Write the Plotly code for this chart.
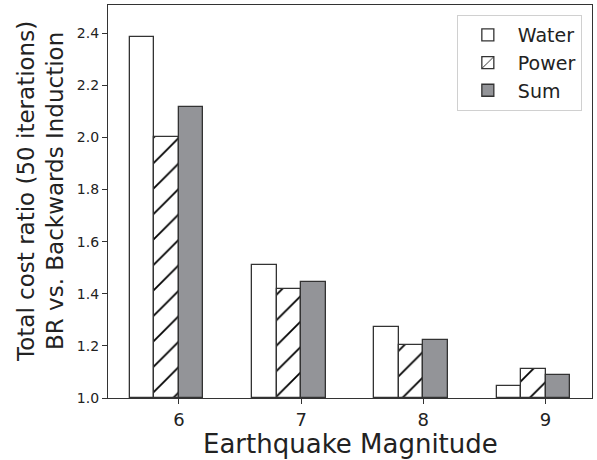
import plotly.graph_objects as go

magnitudes = [6, 7, 8, 9]
water = [2.385, 1.512, 1.272, 1.045]
power = [2.0, 1.418, 1.202, 1.11]
total = [2.115, 1.447, 1.222, 1.088]
y_ticks = [1.0, 1.2, 1.4, 1.6, 1.8, 2.0, 2.2, 2.4]

W = 0.2
edge = dict(color="#333333", width=1.3)

fig = go.Figure()
fig.add_trace(go.Bar(x=magnitudes, y=[v - 1 for v in water], base=1, name="Water",
                     width=W, offset=-2 * W,
                     marker=dict(color="white", line=edge)))
fig.add_trace(go.Bar(x=magnitudes, y=[v - 1 for v in power], base=1, name="Power",
                     width=W, offset=-W,
                     marker=dict(color="white", line=edge,
                                 pattern=dict(shape="/", fgcolor="#000000", bgcolor="white",
                                              fgopacity=1, size=18, solidity=0.1))))
fig.add_trace(go.Bar(x=magnitudes, y=[v - 1 for v in total], base=1, name="Sum",
                     width=W, offset=0,
                     marker=dict(color="#939498", line=edge)))

fig.update_layout(
    width=597, height=460,
    margin=dict(l=108, r=5, t=5, b=62),
    plot_bgcolor="white", paper_bgcolor="white",
    font=dict(family="DejaVu Sans", color="#222222"),
    showlegend=True,
    legend=dict(x=0.979, y=0.9745, xanchor="right", yanchor="top",
                bgcolor="white", bordercolor="#d0d0d0", borderwidth=1,
                font=dict(size=19), itemwidth=50, tracegroupgap=4),
    bargap=0,
    annotations=[
        dict(text="Total cost ratio (50 iterations)<br>BR vs. Backwards Induction",
             xref="paper", yref="paper", x=-0.14, y=0.525,
             xanchor="center", yanchor="middle", textangle=-90,
             showarrow=False, font=dict(size=23, color="#222222")),
        dict(text="Earthquake Magnitude",
             xref="paper", yref="paper", x=0.5, y=-0.118,
             xanchor="center", yanchor="middle",
             showarrow=False, font=dict(size=26, color="#222222")),
    ],
)
fig.update_xaxes(range=[5.42, 9.38], tickvals=magnitudes, ticktext=[str(m) for m in magnitudes],
                 ticks="outside", ticklen=5, tickcolor="#333", tickfont=dict(size=18),
                 showline=True, linecolor="#333", linewidth=1.2, mirror=True,
                 showgrid=False, zeroline=False, automargin=False)
fig.update_yaxes(range=[1.0, 2.508], tickvals=y_ticks, tickformat=".1f",
                 ticks="outside", ticklen=5, tickcolor="#333", tickfont=dict(size=14),
                 showline=True, linecolor="#333", linewidth=1.2, mirror=True,
                 showgrid=False, zeroline=False, automargin=False)

fig.write_html("out.html", config={"displayModeBar": False},
               post_script="document.body.style.margin='0';")
